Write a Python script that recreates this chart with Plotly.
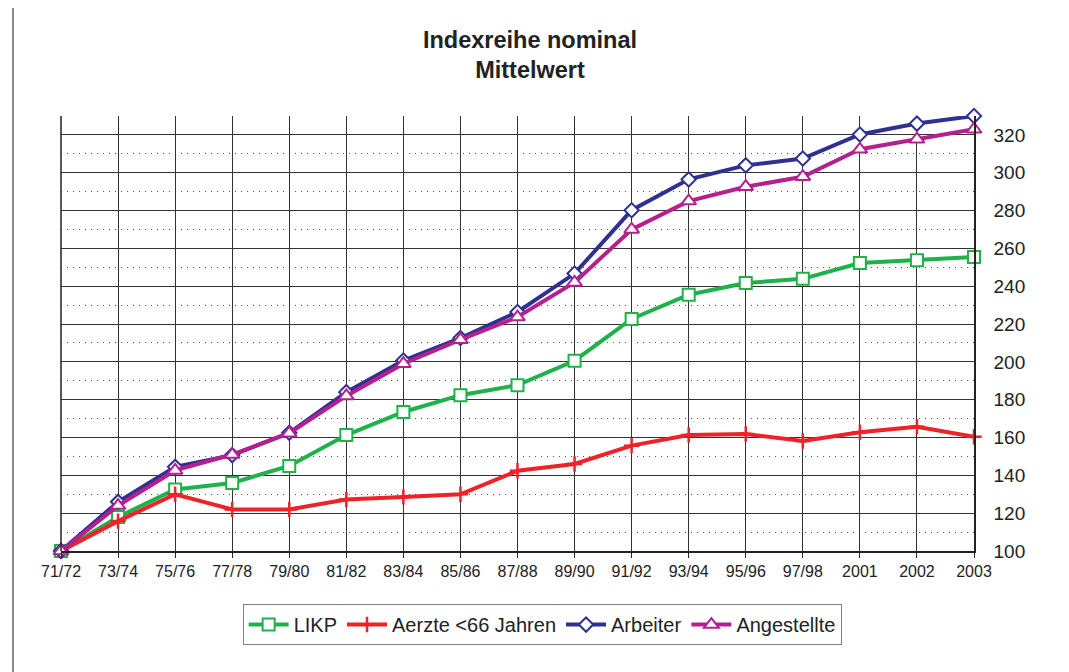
import plotly.graph_objects as go

categories = ["71/72", "73/74", "75/76", "77/78", "79/80", "81/82", "83/84", "85/86",
              "87/88", "89/90", "91/92", "93/94", "95/96", "97/98", "2001", "2002", "2003"]

likp = [100, 118, 132.5, 136, 145, 161.3, 173.5, 182.4, 187.7, 200.6, 222.7, 235.5,
        241.7, 243.9, 252.3, 253.7, 255.5]
aerzte = [100, 115.8, 130, 122, 122, 127.2, 128.6, 130, 142.4, 146, 155.7, 161.3,
          161.9, 158.2, 162.8, 165.7, 160.4]
arbeiter = [100, 126, 144.5, 150.7, 162.5, 184, 200.7, 212.6, 226.4, 246.7, 280.2, 296.5,
            303.9, 307.5, 320.2, 326, 330]
angestellte = [100, 124, 142.6, 151, 162.3, 182, 199, 211.7, 223.7, 242, 270, 285,
               292.6, 297.9, 312.4, 317.7, 323]

y_ticks = [100, 120, 140, 160, 180, 200, 220, 240, 260, 280, 300, 320]

series = [
    ("LIKP", likp, "#1fb24a", dict(symbol="square", size=12, color="white",
                                     line=dict(color="#1fb24a", width=2))),
    ("Aerzte <66 Jahren", aerzte, "#ee2229", dict(symbol="cross-thin", size=11,
                                                   line=dict(color="#ee2229", width=2.5))),
    ("Arbeiter", arbeiter, "#2e3192", dict(symbol="diamond", size=11, color="white",
                                            line=dict(color="#2e3192", width=2))),
    ("Angestellte", angestellte, "#b5208e", dict(symbol="triangle-up", size=13, color="white",
                                                 line=dict(color="#b5208e", width=2))),
]

fig = go.Figure()
for name, vals, col, mk in series:
    fig.add_trace(go.Scatter(
        x=categories, y=vals, name=name, mode="lines+markers",
        line=dict(color=col, width=4), marker=mk, cliponaxis=False,
    ))

font_family = "Liberation Sans, Arial, sans-serif"

# page is offset by the 8px body margin
W, H = 1061, 664
L, T, PW, PH = 53, 108, 913, 435

fig.update_layout(
    width=W, height=H,
    paper_bgcolor="white", plot_bgcolor="white",
    margin=dict(l=L, r=W - L - PW, t=T, b=H - T - PH, autoexpand=False),
    font=dict(family=font_family, color="#222222"),
    title=dict(
        text="<b>Indexreihe nominal</b><br><b>Mittelwert</b>",
        x=(530 - 8) / W, xref="container", xanchor="center",
        y=0.94, yref="container", yanchor="top",
        font=dict(size=23.5, color="#222222", family=font_family),
    ),
    xaxis=dict(
        type="category", range=[0, 16],
        showgrid=True, gridcolor="#333333", gridwidth=1,
        showline=True, linecolor="#222222", linewidth=1.5,
        ticks="outside", ticklen=5, tickcolor="#222222",
        tickfont=dict(size=16, color="#222222"),
        fixedrange=True,
    ),
    yaxis=dict(
        side="right", range=[100, 330],
        tickvals=y_ticks,
        showgrid=True, gridcolor="#333333", gridwidth=1,
        showline=True, linecolor="#222222", linewidth=1.5,
        ticks="", ticklabelstandoff=14,
        tickfont=dict(size=19, color="#222222"),
        zeroline=False,
        minor=dict(dtick=10, tick0=0, showgrid=True, griddash="1px,5px",
                   gridcolor="#555555", gridwidth=1),
    ),
    legend=dict(
        orientation="h", x=0.527, xanchor="center", y=-0.122, yanchor="top",
        xref="paper", yref="paper",
        bordercolor="#7f7f7f", borderwidth=1, bgcolor="white",
        font=dict(size=20, color="#222222"), itemwidth=40,
        tracegroupgap=0,
    ),
    showlegend=True,
    shapes=[
        dict(type="line", xref="paper", yref="paper", x0=0, x1=0, y0=0, y1=1,
             line=dict(color="#222222", width=1.5)),
        dict(type="rect", xref="paper", yref="paper",
             x0=(13 - 61) / PW, x1=(1063 - 61) / PW,
             y0=(551 - 700) / PH, y1=(551 - 6) / PH,
             line=dict(color="#8a8a8a", width=2), fillcolor="rgba(0,0,0,0)", layer="below"),
    ],
)

fig.write_html("out.html")
